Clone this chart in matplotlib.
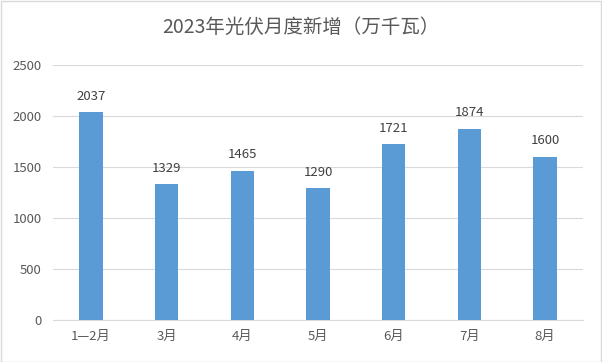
import matplotlib
matplotlib.use("Agg")
import matplotlib.pyplot as plt
from matplotlib.patches import Rectangle

plt.rcParams['font.family'] = ['Noto Sans CJK SC', 'DejaVu Sans']

categories = ["1—2月", "3月", "4月", "5月", "6月", "7月", "8月"]
values = [2037, 1329, 1465, 1290, 1721, 1874, 1600]
yticks = [0, 500, 1000, 1500, 2000, 2500]
title = "2023年光伏月度新增（万千瓦）"

W, H = 602, 362
fig = plt.figure(figsize=(W/100, H/100), dpi=100)
fig.patches.append(Rectangle((0.5/W, 0.5/H), 1-1.5/W, 1-1.5/H, transform=fig.transFigure,
                             fill=False, edgecolor='#d9d9d9', linewidth=1))

left, right = 53/W, 583/W
bottom, top = 1-320/H, 1-65/H
ax = fig.add_axes([left, bottom, right-left, top-bottom])

x = range(len(categories))
ax.bar(x, values, width=0.31, color='#5b9bd5', zorder=3)
for xi, v in zip(x, values):
    ax.annotate(str(v), (xi, v), xytext=(0, 7), textcoords='offset points',
                ha='center', va='bottom', fontsize=9.5, color='#404040')

ax.set_xlim(-0.5, len(categories)-0.5)
ax.set_ylim(0, 2500)
ax.set_yticks(yticks)
ax.set_yticklabels([str(t) for t in yticks])
ax.set_xticks(list(x))
ax.set_xticklabels(categories)
ax.grid(axis='y', color='#d9d9d9', linewidth=0.8, zorder=0)
for s in ['top', 'right', 'left']:
    ax.spines[s].set_visible(False)
ax.spines['bottom'].set_color('#d9d9d9')
ax.tick_params(axis='both', length=0, labelsize=9.5, colors='#595959')
ax.tick_params(axis='y', pad=8)
ax.tick_params(axis='x', pad=7)

fig.text(0.5, 1-27/H, title, ha='center', va='center', fontsize=14, color='#595959')

fig.savefig('out.png', dpi=100)
